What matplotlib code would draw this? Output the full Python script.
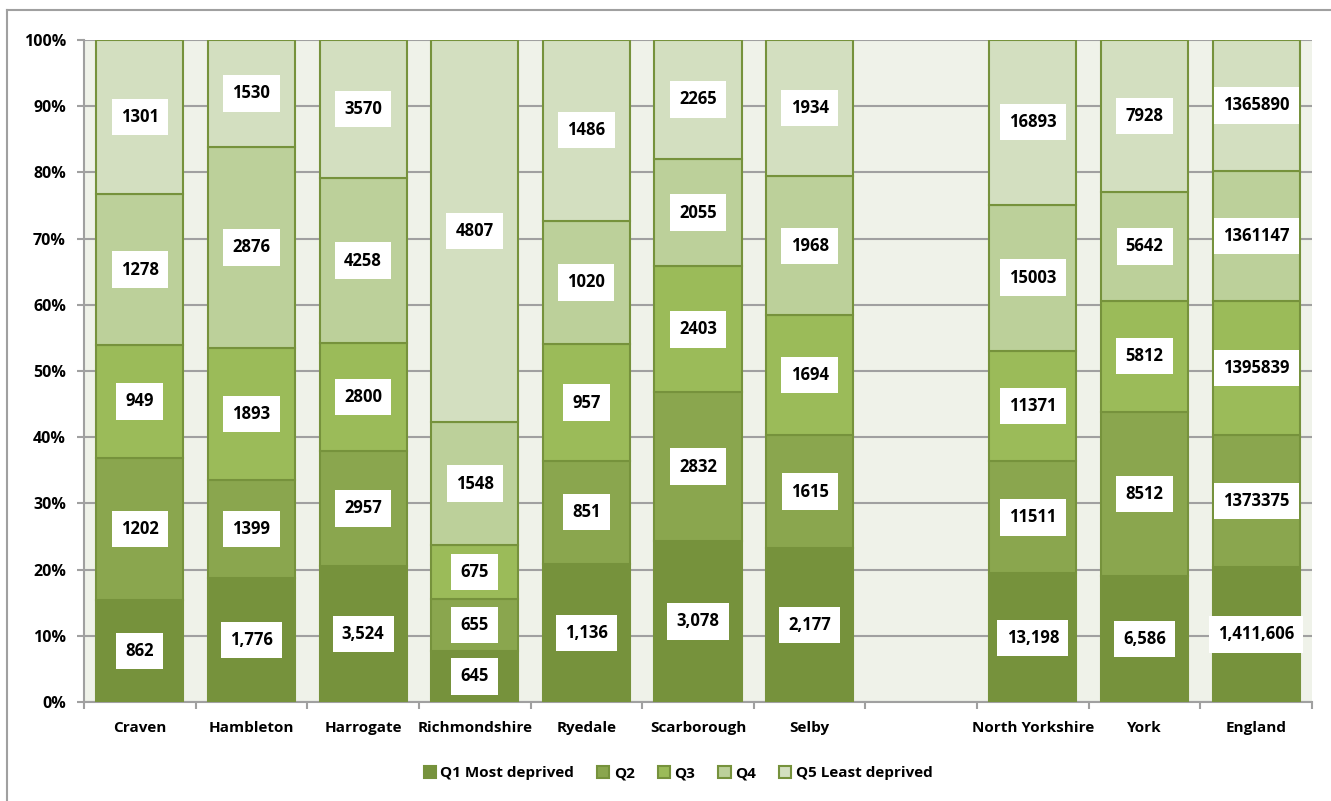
import numpy as np
import matplotlib
matplotlib.use("Agg")
import matplotlib.pyplot as plt
from matplotlib.lines import Line2D

plt.rcParams["font.family"] = ["Open Sans", "DejaVu Sans"]
plt.rcParams["font.weight"] = "bold"

areas = ["Craven", "Hambleton", "Harrogate", "Richmondshire", "Ryedale", "Scarborough",
         "Selby", "", "North Yorkshire", "York", "England"]
q1 = [862, 1776, 3524, 645, 1136, 3078, 2177, 0, 13198, 6586, 1411606]
q2 = [1202, 1399, 2957, 655, 851, 2832, 1615, 0, 11511, 8512, 1373375]
q3 = [949, 1893, 2800, 675, 957, 2403, 1694, 0, 11371, 5812, 1395839]
q4 = [1278, 2876, 4258, 1548, 1020, 2055, 1968, 0, 15003, 5642, 1361147]
q5 = [1301, 1530, 3570, 4807, 1486, 2265, 1934, 0, 16893, 7928, 1365890]
series_names = ["Q1 Most deprived", "Q2", "Q3", "Q4", "Q5 Least deprived"]
colors = ["#76923C", "#8AA64E", "#9BBB59", "#BCD09A", "#D3DFC0"]

data = np.array([q1, q2, q3, q4, q5], dtype=float)
totals = data.sum(axis=0)
has = totals > 0
pct = np.divide(data, totals, out=np.zeros_like(data), where=has) * 100

fig = plt.figure(figsize=(13.31, 8.01), dpi=100)
ax = fig.add_axes([84 / 1331, (801 - 702) / 801, (1312 - 84) / 1331, (702 - 40) / 801])
ax.set_facecolor("#EFF2E9")

x = np.arange(len(areas))
bottom = np.zeros(len(areas))
for i in range(5):
    ax.bar(x[has], pct[i][has], 0.78, bottom=bottom[has], color=colors[i], edgecolor="#76923C",
           linewidth=1.5, label=series_names[i], zorder=3)
    for j in range(len(areas)):
        if not has[j]:
            continue
        v = data[i, j]
        txt = f"{int(v):,}" if i == 0 else f"{int(v)}"
        ax.text(x[j], bottom[j] + pct[i, j] / 2, txt, ha="center", va="center",
                fontsize=12, fontweight="bold", zorder=5,
                bbox=dict(boxstyle="square,pad=0.55", fc="white", ec="none"))
    bottom += pct[i]

ax.set_xlim(-0.5, len(areas) - 0.5)
ax.set_ylim(0, 100)
ax.set_yticks(np.arange(0, 101, 10))
ax.set_yticklabels([f"{v}%" for v in range(0, 101, 10)], fontsize=11.5, fontweight="bold")
ax.yaxis.grid(True, color="#A0A0A0", linewidth=1.5, zorder=0)
ax.set_axisbelow(True)

ax.set_xticks(x)
ax.set_xticklabels(areas, fontsize=11, fontweight="bold")
ax.set_xticks(np.arange(-0.5, len(areas), 1), minor=True)
ax.tick_params(axis="x", which="major", length=0, pad=14)
ax.tick_params(axis="x", which="minor", length=5, color="#A0A0A0", width=1.5)
ax.tick_params(axis="y", length=5, color="#A0A0A0", width=1.5, pad=8)

for s in ["top", "right"]:
    ax.spines[s].set_visible(False)
for s in ["left", "bottom"]:
    ax.spines[s].set_color("#A0A0A0")
    ax.spines[s].set_linewidth(1.5)

leg = fig.legend(loc="center", bbox_to_anchor=(678 / 1331, 1 - 773 / 801), ncol=5,
                 frameon=False, fontsize=11, handlelength=0.8, handleheight=0.8,
                 handletextpad=0.3, columnspacing=1.5)
for t in leg.get_texts():
    t.set_fontweight("bold")

# outer chart border
fig.add_artist(Line2D([7 / 1331, 1], [1 - 10 / 801, 1 - 10 / 801], color="#A0A0A0", lw=1.5))
fig.add_artist(Line2D([7 / 1331, 7 / 1331], [0, 1 - 10 / 801], color="#A0A0A0", lw=1.5))

fig.savefig("out.png", dpi=100)
